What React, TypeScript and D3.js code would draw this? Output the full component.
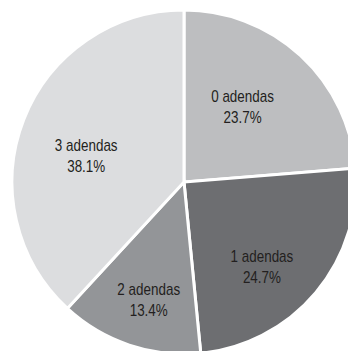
import React, { useEffect, useRef } from "react";
import * as d3 from "d3";

const categories = ["0 adendas", "1 adendas", "2 adendas", "3 adendas"];
const values = [23.7, 24.7, 13.4, 38.1];
const colors = ["#bdbec0", "#6d6e71", "#939598", "#dcdddf"];

// label nudges (px) from the label-arc centroid, layout only
const labelNudge: [number, number][] = [
  [-14.7, 3.8],
  [-4.9, 15.9],
  [-0.9, 15.5],
  [2.8, 12.9],
];

export default function App() {
  const ref = useRef<SVGSVGElement>(null);
  useEffect(() => {
    const svg = d3.select(ref.current);
    svg.selectAll("*").remove();
    const cx = 184, cy = 182, r = 172;
    const data = categories.map((c, i) => ({ c, v: values[i], col: colors[i], i }));
    const pie = d3.pie<any>().value((d) => d.v).sort(null);
    const arcs = pie(data);
    const arc = d3.arc<any>().innerRadius(0).outerRadius(r);
    const labelArc = d3.arc<any>().innerRadius(108).outerRadius(108);
    const g = svg.append("g").attr("transform", `translate(${cx},${cy})`);
    g.selectAll("path")
      .data(arcs)
      .enter()
      .append("path")
      .attr("d", arc)
      .attr("fill", (d) => d.data.col)
      .attr("stroke", "#ffffff")
      .attr("stroke-width", 3)
      .attr("stroke-linejoin", "miter");
    const lab = g.selectAll("g.lab")
      .data(arcs)
      .enter()
      .append("g")
      .attr("class", "lab")
      .attr("transform", (d) => {
        const [x, y] = labelArc.centroid(d);
        const [dx, dy] = labelNudge[d.data.i];
        return `translate(${x + dx},${y + dy}) scale(0.84,1)`;
      });
    const font = "'Liberation Sans', Arial, sans-serif";
    lab.append("text")
      .attr("text-anchor", "middle")
      .attr("y", -4.75)
      .attr("font-family", font)
      .attr("font-size", 16)
      .attr("fill", "#231f20")
      .text((d) => d.data.c);
    lab.append("text")
      .attr("text-anchor", "middle")
      .attr("y", 16.25)
      .attr("font-family", font)
      .attr("font-size", 16)
      .attr("fill", "#231f20")
      .text((d) => `${d.data.v.toFixed(1)}%`);
  }, []);
  return (
    <svg
      ref={ref}
      width={348}
      height={351}
      style={{ position: "absolute", left: 0, top: 0, background: "#ffffff" }}
    />
  );
}
